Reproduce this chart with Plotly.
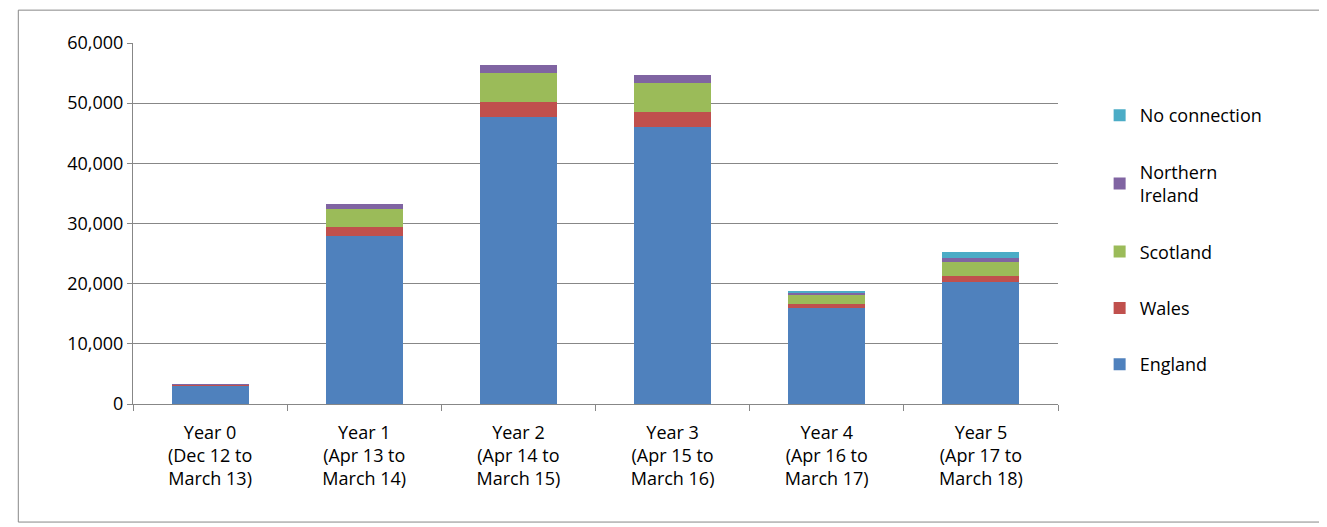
import plotly.graph_objects as go

categories = ["Year 0<br>(Dec 12 to<br>March 13)", "Year 1<br>(Apr 13 to<br>March 14)",
              "Year 2<br>(Apr 14 to<br>March 15)", "Year 3<br>(Apr 15 to<br>March 16)",
              "Year 4<br>(Apr 16 to<br>March 17)", "Year 5<br>(Apr 17 to<br>March 18)"]
england = [3100, 28000, 47700, 46000, 16000, 20300]
wales = [150, 1400, 2500, 2500, 600, 1000]
scotland = [50, 3000, 4800, 4900, 1500, 2300]
ni = [20, 800, 1400, 1300, 500, 650]
no_conn = [0, 0, 0, 0, 150, 950]

series = [("England", england, "#4F81BD"), ("Wales", wales, "#C0504D"),
          ("Scotland", scotland, "#9BBB59"), ("Northern<br>Ireland", ni, "#8064A2"),
          ("No connection", no_conn, "#4BACC6")]

fig = go.Figure()
for i, (name, vals, col) in enumerate(series):
    fig.add_bar(x=categories, y=vals, name=name, legendgroup=name, legendrank=10 - i,
                marker=dict(color=col, line=dict(width=0)))

fig.update_layout(
    barmode="stack", bargap=0.5, width=1327, height=527,
    paper_bgcolor="white", plot_bgcolor="white",
    font=dict(family="Open Sans, DejaVu Sans", size=18, color="black"),
    margin=dict(l=125, r=277, t=35, b=131),
    legend=dict(x=1.045, y=0.85, yanchor="top", traceorder="grouped",
                font=dict(size=18), tracegroupgap=30, itemwidth=30),
    yaxis=dict(range=[0, 60000], tickvals=list(range(0, 60001, 10000)),
               tickformat=",", showgrid=True, gridcolor="#878787", gridwidth=1,
               showline=True, linecolor="#878787", ticks="outside", ticklen=5,
               tickcolor="#878787", zeroline=False),
    xaxis=dict(showline=True, linecolor="#878787", ticks="outside", tickson="boundaries",
               ticklen=6, tickcolor="#878787", tickangle=0, ticklabelstandoff=12),
    shapes=[dict(type="rect", xref="paper", yref="paper", x0=-0.124, x1=1.292, y0=-0.327, y1=1.091,
                 line=dict(color="#878787", width=1))],
)
fig.write_html("out.html")
